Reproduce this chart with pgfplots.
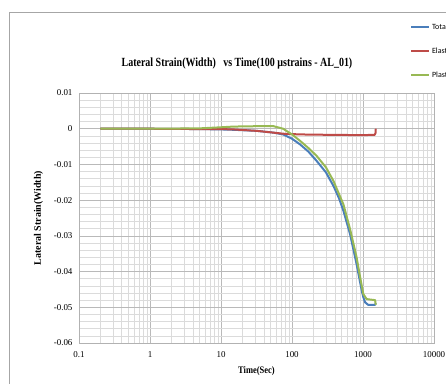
\documentclass[border=0pt]{standalone}
\usepackage{pgfplots}
\pgfplotsset{compat=1.18}
\usepackage{fontspec}
\setmainfont{Liberation Serif}
\newfontfamily\legfont{Carlito}
\definecolor{cblue}{HTML}{4A7EBB}
\definecolor{cred}{HTML}{BE4B48}
\definecolor{cgreen}{HTML}{98B954}
\pgfplotstableread{
x y
0.2 0
1 0
5 -0.0001
10 -0.0002
15 -0.0003
32 -0.0006
55 -0.0011
75 -0.0016
100 -0.0028
130 -0.0044
170 -0.0064
222 -0.0090
300 -0.0122
383 -0.0160
460 -0.0195
530 -0.0230
657 -0.0295
812 -0.0379
900 -0.0425
960 -0.0453
1010 -0.0472
1070 -0.0486
1180 -0.0493
1480 -0.0493
1513 -0.0488
}\total
\pgfplotstableread{
x y
0.2 0
1 0
5 -0.0001
10 -0.0001
15 -0.0002
32 -0.0006
55 -0.0011
75 -0.0014
130 -0.0016
300 -0.0017
1000 -0.0018
1460 -0.0017
1500 -0.0012
1513 0.0000
}\elastic
\pgfplotstableread{
x y
0.2 0
1 0
5 0.0001
10 0.0004
15 0.0006
30 0.0007
55 0.0007
75 0.0000
100 -0.0016
130 -0.0034
170 -0.0054
222 -0.0076
300 -0.0108
383 -0.0146
530 -0.0212
657 -0.0281
812 -0.0360
900 -0.0410
1010 -0.0463
1123 -0.0477
1480 -0.0480
1513 -0.0493
}\plastic
\begin{document}
\begin{tikzpicture}[x=1bp,y=1bp]
\useasboundingbox (0,0) rectangle (446,383);
\draw[gray!70, line width=0.8bp] (9,-5) -- (9,370.3) -- (460,370.3);
\node at (237,319) {\scalebox{0.8}[1]{\bfseries\fontsize{12.5}{14}\selectfont Lateral Strain(Width)\ \ \ vs Time(100 µstrains - AL\_01)}};
\begin{axis}[at={(79bp,40bp)}, anchor=south west, scale only axis,
  width=355bp, height=250bp,
  xmode=log, xmin=0.1, xmax=10000, ymin=-0.06, ymax=0.01,
  scaled y ticks=false,
  xtick={0.1,1,10,100,1000,10000},
  xticklabels={0.1,1,10,100,1000,10000},
  ytick={-0.06,-0.05,-0.04,-0.03,-0.02,-0.01,0,0.01},
  yticklabels={-0.06,-0.05,-0.04,-0.03,-0.02,-0.01,0,0.01},
  minor y tick num=4,
  grid=both, major grid style={gray!55, line width=0.6bp}, minor grid style={gray!28, line width=0.5bp},
  axis line style={gray!60}, tick style={draw=none},
  tick label style={font=\fontsize{9}{10}\selectfont},
  xticklabel style={yshift=-5bp},
  yticklabel style={xshift=-3bp},
  xlabel={\scalebox{0.85}[1]{\bfseries\fontsize{10}{12}\selectfont Time(Sec)}},
  ylabel={\bfseries\fontsize{10}{12}\selectfont Lateral Strain(Width)},
  xlabel style={yshift=-2bp},
  ylabel style={yshift=4bp},
  legend style={draw=none, fill=none, at={(rel axis cs:0.932,1.168)}, anchor=west,
    font=\legfont\fontsize{8}{9}\selectfont, row sep=13bp, inner sep=0pt,
    legend cell align=left},
  legend image code/.code={\draw[#1, line width=2bp] (0,0) -- (18bp,0);},
  every axis plot/.append style={line width=2bp, line join=round},
]
\addplot[cblue, no markers] table[x=x,y=y] {\total};
\addplot[cred, no markers] table[x=x,y=y] {\elastic};
\addplot[cgreen, no markers] table[x=x,y=y] {\plastic};
\legend{Total,Elastic,Plastic}
\end{axis}
\end{tikzpicture}
\end{document}
